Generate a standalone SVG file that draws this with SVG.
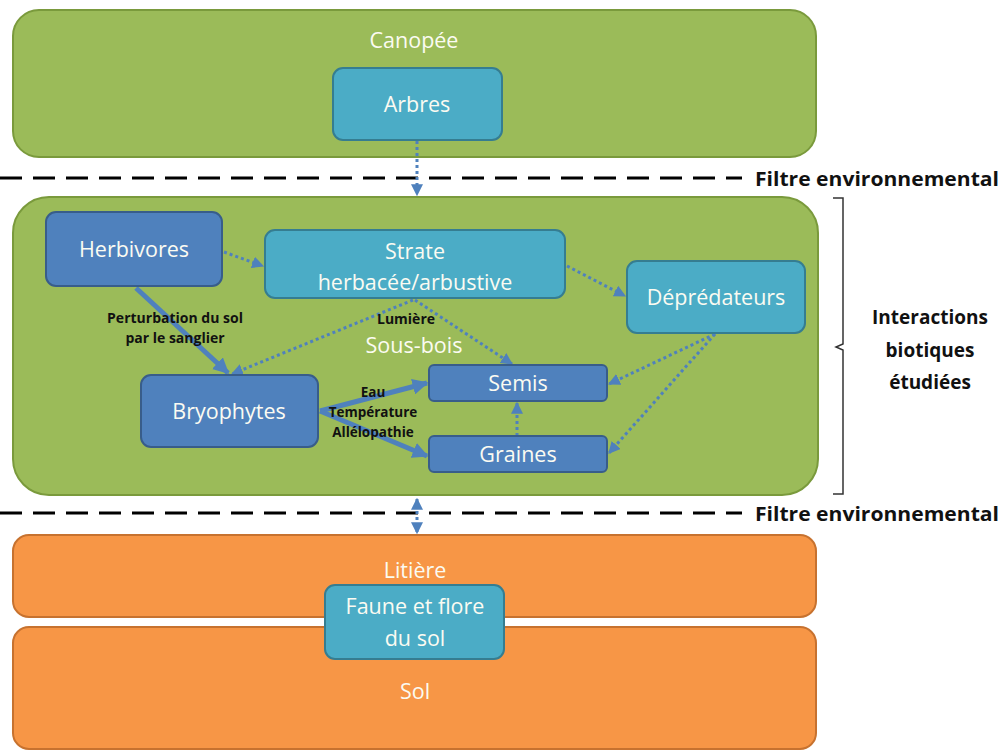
<svg xmlns="http://www.w3.org/2000/svg" width="1005" height="751" viewBox="0 0 1005 751">
<defs>
<style>
.green{fill:#9bbb59;stroke:#7a9a3c;stroke-width:2}
.orange{fill:#f79646;stroke:#c7722f;stroke-width:2}
.light{fill:#4bacc6;stroke:#357d91;stroke-width:2}
.dark{fill:#4f81bd;stroke:#385d8a;stroke-width:2}
.t{font-family:"Open Sans","Liberation Sans",sans-serif;fill:#fbfbf2;text-anchor:middle}
.big{font-size:21.5px}
.lab{font-family:"Open Sans","Liberation Sans",sans-serif;font-weight:bold;fill:#111;text-anchor:middle;font-size:13.5px}
.side{font-family:"Open Sans","Liberation Sans",sans-serif;font-weight:bold;fill:#111;font-size:19px}
.dot{fill:none;stroke:#4f81bd;stroke-width:3;stroke-dasharray:3 3}
.solid{fill:none;stroke:#4f81bd;stroke-width:5}
.dash{stroke:#000;stroke-width:3;stroke-dasharray:22 11}
</style>
<marker id="ah" viewBox="0 0 10 10" refX="9" refY="5" markerWidth="4" markerHeight="4" orient="auto-start-reverse" markerUnits="strokeWidth"><path d="M0,0 L10,5 L0,10 z" fill="#4f81bd"/></marker>
<marker id="ahs" viewBox="0 0 10 10" refX="9" refY="5" markerWidth="3.2" markerHeight="3.2" orient="auto" markerUnits="strokeWidth"><path d="M0,0 L10,5 L0,10 z" fill="#4f81bd"/></marker>
</defs>

<g id="canopee"><rect class="green" x="13" y="10" width="803" height="147" rx="26"/><text class="t big" x="414" y="48">Canopée</text></g>
<g id="sousbois"><rect class="green" x="13" y="197" width="805" height="298" rx="36"/><text class="t big" x="414" y="353">Sous-bois</text></g>
<g id="litiere"><rect class="orange" x="13" y="535" width="803" height="82" rx="16"/><text class="t big" x="415" y="578">Litière</text></g>
<g id="sol"><rect class="orange" x="13" y="627" width="803" height="122" rx="16"/><text class="t big" x="415" y="699">Sol</text></g>

<g id="filtres">
<line class="dash" x1="0" y1="178" x2="742" y2="178"/>
<text class="side" x="755" y="186" style="font-size:20px" textLength="244" lengthAdjust="spacingAndGlyphs">Filtre environnemental</text>
<line class="dash" x1="0" y1="513" x2="742" y2="513"/>
<text class="side" x="755" y="521" style="font-size:20px" textLength="244" lengthAdjust="spacingAndGlyphs">Filtre environnemental</text>
</g>

<g id="brace">
<path d="M833,198 L843,198 L843,344 L836,347 L843,350 L843,494 L833,494" fill="none" stroke="#333" stroke-width="1.5"/>
<text class="side" x="930" y="324" text-anchor="middle">Interactions</text>
<text class="side" x="930" y="357" text-anchor="middle">biotiques</text>
<text class="side" x="930" y="389" text-anchor="middle">étudiées</text>
</g>

<g id="connectors">
<line class="dot" x1="417" y1="141" x2="417" y2="195" marker-end="url(#ah)"/>
<line class="dot" x1="417" y1="499" x2="417" y2="533" marker-start="url(#ah)" marker-end="url(#ah)"/>
<line class="dot" x1="224" y1="252" x2="263" y2="266" marker-end="url(#ah)"/>
<line class="solid" x1="136" y1="288" x2="228" y2="373" marker-end="url(#ahs)"/>
<line class="dot" x1="413" y1="300" x2="232" y2="374" marker-end="url(#ah)"/>
<line class="dot" x1="415" y1="300" x2="512" y2="364" marker-end="url(#ah)"/>
<line class="dot" x1="567" y1="266" x2="625" y2="296" marker-end="url(#ah)"/>
<line class="dot" x1="715" y1="334" x2="609" y2="384" marker-end="url(#ah)"/>
<line class="dot" x1="715" y1="334" x2="609" y2="453" marker-end="url(#ah)"/>
<line class="dot" x1="517" y1="436" x2="517" y2="403" marker-end="url(#ah)"/>
<line class="solid" x1="320" y1="411" x2="427" y2="383" marker-end="url(#ahs)"/>
<line class="solid" x1="320" y1="411" x2="427" y2="456" marker-end="url(#ahs)"/>
<text class="lab" x="175" y="323" style="font-size:14px">Perturbation du sol</text>
<text class="lab" x="175" y="343" style="font-size:14px">par le sanglier</text>
<text class="lab" x="406" y="324" style="font-size:14px">Lumière</text>
<text class="lab" x="373" y="397">Eau</text>
<text class="lab" x="373" y="417">Température</text>
<text class="lab" x="373" y="437">Allélopathie</text>
</g>

<g id="arbres"><rect class="light" x="333" y="68" width="169" height="72" rx="10"/><text class="t big" x="417" y="112">Arbres</text></g>
<g id="herbivores"><rect class="dark" x="46" y="212" width="176" height="74" rx="10"/><text class="t big" x="134" y="257">Herbivores</text></g>
<g id="strate"><rect class="light" x="265" y="230" width="300" height="68" rx="10"/><text class="t big" x="415" y="259">Strate</text><text class="t big" x="415" y="290">herbacée/arbustive</text></g>
<g id="depredateurs"><rect class="light" x="627" y="261" width="178" height="72" rx="10"/><text class="t big" x="716" y="305">Déprédateurs</text></g>
<g id="bryophytes"><rect class="dark" x="141" y="375" width="177" height="72" rx="10"/><text class="t big" x="229" y="419">Bryophytes</text></g>
<g id="semis"><rect class="dark" x="429" y="365" width="178" height="36" rx="5"/><text class="t big" x="518" y="391">Semis</text></g>
<g id="graines"><rect class="dark" x="429" y="436" width="178" height="36" rx="5"/><text class="t big" x="518" y="462">Graines</text></g>
<g id="faune"><rect class="light" x="325" y="585" width="179" height="74" rx="10"/><text class="t big" x="415" y="614">Faune et flore</text><text class="t big" x="415" y="646">du sol</text></g>
</svg>
